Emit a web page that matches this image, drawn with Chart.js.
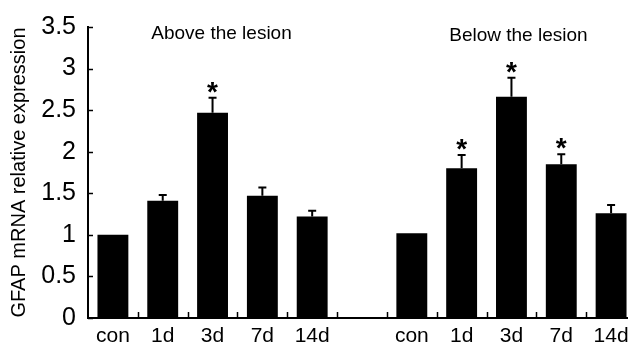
<!DOCTYPE html>
<html>
<head>
<meta charset="utf-8">
<script src="https://cdn.jsdelivr.net/npm/chart.js@4"></script>
<style>
  html, body { margin: 0; padding: 0; background: #fff; overflow: hidden; }
  #wrap { width: 640px; height: 347px; position: relative; }
</style>
</head>
<body>
<div id="wrap"><canvas id="gfapChart"></canvas></div>
<script>
// categorias (a posição 5 fica vazia para separar os grupos)
const timeLabels = ['con', '1d', '3d', '7d', '14d'];
const groupNames = ['Above the lesion', 'Below the lesion'];
const yTicks = [0, 0.5, 1, 1.5, 2, 2.5, 3, 3.5];

// valores
const aboveMean = [1.00, 1.41, 2.47, 1.47, 1.22];
const aboveErr  = [0.00, 0.07, 0.18, 0.10, 0.07];
const aboveSig  = [false, false, true, false, false];

const belowMean = [1.02, 1.80, 2.66, 1.85, 1.26];
const belowErr  = [0.00, 0.16, 0.23, 0.12, 0.10];
const belowSig  = [false, true, true, true, false];

const fontFamily = '"Liberation Sans", Arial, sans-serif';

// monta as listas completas com o espaço entre os grupos
const labels = [...timeLabels, '', ...timeLabels];
const means = [...aboveMean, null, ...belowMean];
const errs = [...aboveErr, null, ...belowErr];
const sigs = [...aboveSig, false, ...belowSig];

// desenha barras de erro, asteriscos, marcas dos eixos e nomes dos grupos
const extrasPlugin = {
    id: 'extras',
    afterDatasetsDraw(chart) {
        const ctx = chart.ctx;
        const x = chart.scales.x;
        const y = chart.scales.y;
        const area = chart.chartArea;
        ctx.save();
        ctx.strokeStyle = '#000';
        ctx.fillStyle = '#000';

        // barras de erro (só para cima)
        ctx.lineWidth = 2;
        means.forEach((m, i) => {
            if (m === null || !errs[i]) return;
            const px = x.getPixelForValue(i);
            const top = y.getPixelForValue(m + errs[i]);
            const base = y.getPixelForValue(m);
            ctx.beginPath();
            ctx.moveTo(px, base);
            ctx.lineTo(px, top);
            ctx.moveTo(px - 4, top);
            ctx.lineTo(px + 4, top);
            ctx.stroke();
        });

        // asteriscos de significância
        ctx.font = 'bold 28px ' + fontFamily;
        ctx.textAlign = 'center';
        ctx.textBaseline = 'alphabetic';
        sigs.forEach((s, i) => {
            if (!s) return;
            const px = x.getPixelForValue(i);
            const top = y.getPixelForValue(means[i] + errs[i]);
            ctx.fillText('*', px, top + 3);
        });

        // marcas do eixo y, para dentro
        ctx.lineWidth = 1.5;
        yTicks.forEach(v => {
            const py = Math.round(y.getPixelForValue(v)) + 0.5;
            ctx.beginPath();
            ctx.moveTo(area.left, py);
            ctx.lineTo(area.left + 5, py);
            ctx.stroke();
        });

        // marcas do eixo x entre as categorias, para cima
        for (let i = 0; i < labels.length - 1; i++) {
            const px = Math.round((x.getPixelForValue(i) + x.getPixelForValue(i + 1)) / 2) + 0.5;
            ctx.beginPath();
            ctx.moveTo(px, area.bottom);
            ctx.lineTo(px, area.bottom - 6);
            ctx.stroke();
        }

        // nomes dos grupos
        ctx.font = '19px ' + fontFamily;
        ctx.textBaseline = 'middle';
        const spacing = x.getPixelForValue(1) - x.getPixelForValue(0);
        ctx.fillText(groupNames[0], x.getPixelForValue(2) + spacing * 0.18, y.getPixelForValue(3.42));
        ctx.fillText(groupNames[1], x.getPixelForValue(8) + spacing * 0.14, y.getPixelForValue(3.4));

        ctx.restore();
    }
};

document.addEventListener('DOMContentLoaded', function() {
    const canvas = document.getElementById('gfapChart');
    canvas.width = 640;
    canvas.height = 347;

    new Chart(canvas.getContext('2d'), {
        type: 'bar',
        data: {
            labels: labels,
            datasets: [{
                data: means,
                backgroundColor: '#000',
                borderWidth: 0,
                barPercentage: 0.62,
                categoryPercentage: 1.0
            }]
        },
        options: {
            responsive: false,
            animation: false,
            events: [],
            layout: { padding: { top: 21, right: 4, left: 0, bottom: 0 } },
            plugins: {
                legend: { display: false },
                tooltip: { enabled: false }
            },
            scales: {
                x: {
                    type: 'category',
                    offset: true,
                    grid: { display: false, drawTicks: false },
                    border: { display: true, color: '#000', width: 2 },
                    ticks: {
                        color: '#000',
                        padding: 6,
                        maxRotation: 0,
                        autoSkip: false,
                        font: { family: fontFamily, size: 21 }
                    },
                    afterFit: function(scale) { scale.height = 29; }
                },
                y: {
                    min: 0,
                    max: 3.5,
                    grid: { display: false, drawTicks: false },
                    border: { display: true, color: '#000', width: 2 },
                    ticks: {
                        stepSize: 0.5,
                        color: '#000',
                        padding: 12,
                        font: { family: fontFamily, size: 25 },
                        callback: function(value) {
                            return String(value);
                        }
                    },
                    title: {
                        display: true,
                        text: 'GFAP mRNA relative expression',
                        color: '#000',
                        padding: { top: 7, bottom: 0 },
                        font: { family: fontFamily, size: 20 }
                    },
                    afterFit: function(scale) { scale.width = 88; }
                }
            }
        },
        plugins: [extrasPlugin]
    });
});
</script>
</body>
</html>
